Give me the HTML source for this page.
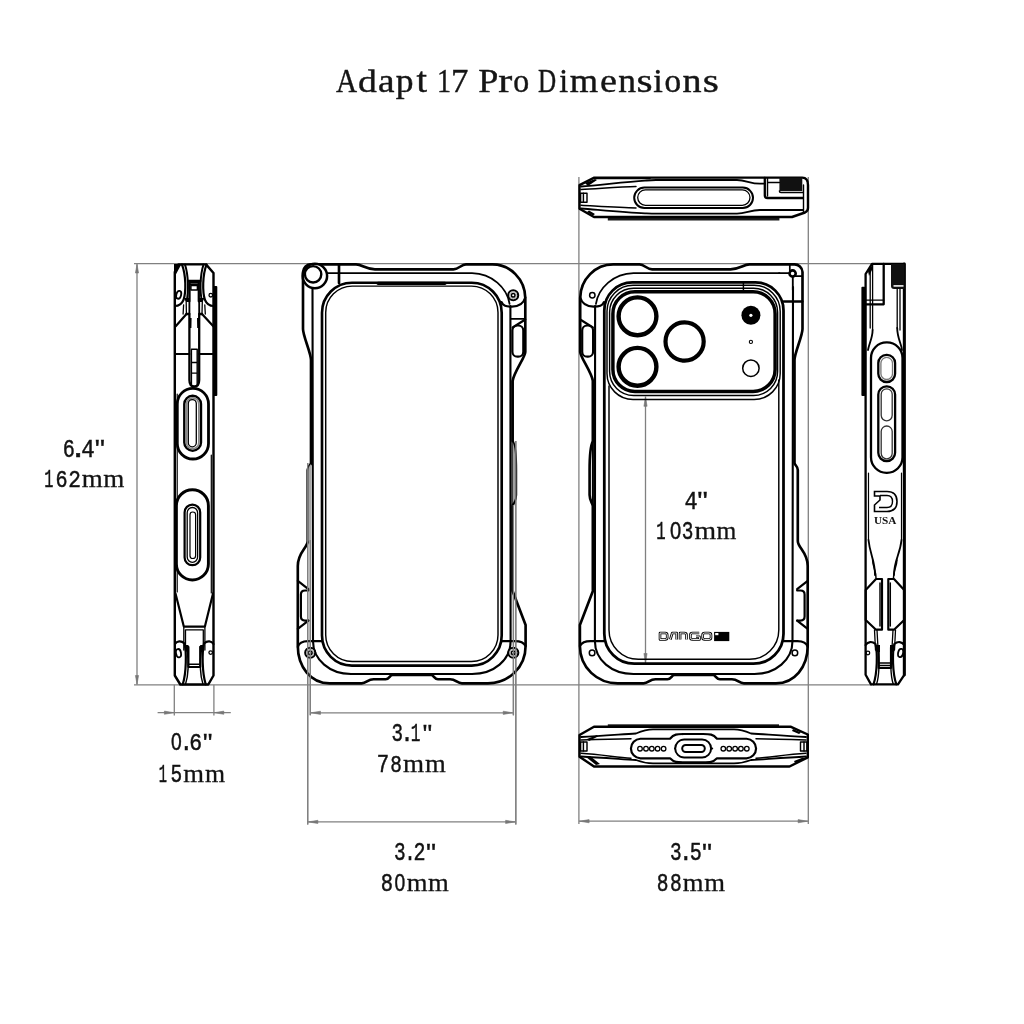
<!DOCTYPE html>
<html><head><meta charset="utf-8"><title>Adapt 17 Pro Dimensions</title>
<style>
html,body{margin:0;padding:0;background:#fff;}
body{width:1024px;height:1024px;overflow:hidden;}
svg{display:block;will-change:transform;}
.k{fill:none;stroke:#000;stroke-width:2.65;stroke-linejoin:round;stroke-linecap:round;}
.t{fill:none;stroke:#000;stroke-width:1.45;stroke-linejoin:round;stroke-linecap:round;}
.g{fill:none;stroke:#808080;stroke-width:1.3;}
.ga{fill:#777;stroke:#777;stroke-width:0.6;}
.f{fill:#000;stroke:none;}
.lbl text{font-family:"Liberation Mono",monospace;fill:#111;stroke:#111;stroke-width:0.5;}
.ttl text{font-family:"Liberation Serif",serif;fill:#151515;stroke:#151515;stroke-width:0.4;}
.lbl text.sf{font-family:"Liberation Serif",serif;stroke-width:0.3;}
.lbl text.ss{font-family:"Liberation Sans",sans-serif;}
.lbl,.ttl{opacity:0.995;}
</style></head>
<body>
<svg width="1024" height="1024" viewBox="0 0 1024 1024">
<rect width="1024" height="1024" fill="#fff"/>
<!-- DIMENSION LINES -->
<g id="dims">
  <line class="g" x1="134" y1="263.6" x2="872" y2="263.6"/>
  <line class="g" x1="134" y1="684.8" x2="872" y2="684.8"/>
  <line class="g" x1="137" y1="263.6" x2="137" y2="684.8"/>
  <path class="ga" d="M137,264.5 L135.4,273 L138.6,273 Z"/>
  <path class="ga" d="M137,684 L135.4,675.5 L138.6,675.5 Z"/>
  <!-- 0.6 -->
  <line class="g" x1="174.3" y1="684.8" x2="174.3" y2="715.6"/>
  <line class="g" x1="213.9" y1="684.8" x2="213.9" y2="715.6"/>
  <line class="g" x1="157.6" y1="712.7" x2="230.8" y2="712.7"/>
  <path class="ga" d="M173.8,712.7 L164.4,711.1 L164.4,714.3 Z"/>
  <path class="ga" d="M214.4,712.7 L223.8,711.1 L223.8,714.3 Z"/>
  <!-- 3.1 -->
  <line class="g" x1="310.3" y1="540" x2="310.3" y2="715.3"/>
  <line class="g" x1="513.4" y1="505" x2="513.4" y2="715.3"/>
  <line class="g" x1="310.3" y1="712.8" x2="513.4" y2="712.8"/>
  <path class="ga" d="M311,712.8 L320.5,711.2 L320.5,714.4 Z"/>
  <path class="ga" d="M512.7,712.8 L503.2,711.2 L503.2,714.4 Z"/>
  <!-- 3.2 -->
  <line class="g" x1="307.7" y1="463" x2="307.7" y2="824.5"/>
  <line class="g" x1="515.8" y1="441" x2="515.8" y2="824.5"/>
  <line class="g" x1="307.7" y1="821.9" x2="515.8" y2="821.9"/>
  <path class="ga" d="M308.4,821.9 L317.9,820.3 L317.9,823.5 Z"/>
  <path class="ga" d="M515.1,821.9 L505.6,820.3 L505.6,823.5 Z"/>
  <!-- 3.5 -->
  <line class="g" x1="578.9" y1="177" x2="578.9" y2="824"/>
  <line class="g" x1="808.3" y1="177" x2="808.3" y2="824"/>
  <line class="g" x1="578.9" y1="821.2" x2="808.3" y2="821.2"/>
  <path class="ga" d="M579.6,821.2 L589.1,819.6 L589.1,822.8 Z"/>
  <path class="ga" d="M807.6,821.2 L798.1,819.6 L798.1,822.8 Z"/>
  <!-- 4in -->
  <line class="g" x1="645.5" y1="396.5" x2="645.5" y2="663"/>
  <path class="ga" d="M645.5,397 L643.9,406.3 L647.1,406.3 Z"/>
  <path class="ga" d="M645.5,662.8 L643.9,653.5 L647.1,653.5 Z"/>
</g>

<g class="lbl">
<text transform="translate(62.81,456.70) scale(0.7842,0.9947)" font-size="25.7">6</text>
<text transform="translate(69.32,456.70) scale(1.1529,1.0000)" font-size="25.7">.</text>
<text transform="translate(81.27,456.70) scale(0.8733,1.0101)" font-size="25.7">4</text>
<text transform="translate(92.79,453.07) scale(0.9236,0.7233)" font-size="25.7">&quot;</text>
<text transform="translate(44.20,487.00) scale(0.5924,0.9806)" font-size="25.7">1</text>
<text transform="translate(55.51,487.00) scale(0.7842,0.9656)" font-size="25.7">6</text>
<text transform="translate(68.21,487.00) scale(0.8223,0.9656)" font-size="25.7">2</text>
<text transform="translate(81.83,487.00) scale(1.0499,1.0075)" font-size="25.7" class="sf">m</text>
<text transform="translate(103.23,487.00) scale(1.0552,1.0075)" font-size="25.7" class="sf">m</text>
<text transform="translate(171.05,750.30) scale(0.7489,0.9139)" font-size="25.7" class="ss">0</text>
<text transform="translate(179.51,750.30) scale(0.8817,1.0000)" font-size="25.7">.</text>
<text transform="translate(189.32,750.30) scale(0.8348,0.9539)" font-size="25.7">6</text>
<text transform="translate(201.10,747.37) scale(0.8644,0.7233)" font-size="25.7">&quot;</text>
<text transform="translate(158.81,781.50) scale(0.5356,0.9983)" font-size="25.7">1</text>
<text transform="translate(170.59,781.50) scale(0.7550,0.9983)" font-size="25.7">5</text>
<text transform="translate(183.34,781.50) scale(1.0394,1.0075)" font-size="25.7" class="sf">m</text>
<text transform="translate(204.96,781.50) scale(1.0027,1.0075)" font-size="25.7" class="sf">m</text>
<text transform="translate(391.40,741.20) scale(0.7468,0.9772)" font-size="25.7">3</text>
<text transform="translate(400.52,741.20) scale(0.8478,1.0000)" font-size="25.7">.</text>
<text transform="translate(410.84,741.20) scale(0.6249,0.9924)" font-size="25.7">1</text>
<text transform="translate(420.70,737.87) scale(0.8644,0.7233)" font-size="25.7">&quot;</text>
<text transform="translate(376.70,771.60) scale(0.8048,0.9688)" font-size="25.7">7</text>
<text transform="translate(390.24,771.60) scale(0.7546,0.9539)" font-size="25.7">8</text>
<text transform="translate(403.03,771.60) scale(1.0552,1.0075)" font-size="25.7" class="sf">m</text>
<text transform="translate(424.94,771.60) scale(1.0394,1.0075)" font-size="25.7" class="sf">m</text>
<text transform="translate(393.99,860.00) scale(0.7550,0.9830)" font-size="25.7">3</text>
<text transform="translate(404.16,860.00) scale(0.7460,1.0000)" font-size="25.7">.</text>
<text transform="translate(413.59,860.00) scale(0.7799,0.9830)" font-size="25.7">2</text>
<text transform="translate(423.93,856.57) scale(0.9117,0.7233)" font-size="25.7">&quot;</text>
<text transform="translate(380.67,890.70) scale(0.7961,0.9772)" font-size="25.7">8</text>
<text transform="translate(394.45,890.70) scale(0.7489,0.9362)" font-size="25.7" class="ss">0</text>
<text transform="translate(406.74,890.70) scale(1.0394,1.0075)" font-size="25.7" class="sf">m</text>
<text transform="translate(427.94,890.70) scale(1.0394,1.0075)" font-size="25.7" class="sf">m</text>
<text transform="translate(669.99,860.00) scale(0.7550,0.9830)" font-size="25.7">3</text>
<text transform="translate(678.91,860.00) scale(0.8817,1.0000)" font-size="25.7">.</text>
<text transform="translate(689.75,860.00) scale(0.7797,0.9983)" font-size="25.7">5</text>
<text transform="translate(699.93,856.57) scale(0.9117,0.7233)" font-size="25.7">&quot;</text>
<text transform="translate(656.73,890.70) scale(0.7629,0.9772)" font-size="25.7">8</text>
<text transform="translate(669.93,890.70) scale(0.7629,0.9772)" font-size="25.7">8</text>
<text transform="translate(682.74,890.70) scale(1.0394,1.0075)" font-size="25.7" class="sf">m</text>
<text transform="translate(704.34,890.70) scale(1.0394,1.0075)" font-size="25.7" class="sf">m</text>
<text transform="translate(684.40,508.70) scale(0.8499,0.9924)" font-size="25.7">4</text>
<text transform="translate(695.21,505.37) scale(0.9473,0.7233)" font-size="25.7">&quot;</text>
<text transform="translate(656.27,538.90) scale(0.6086,0.9924)" font-size="25.7">1</text>
<text transform="translate(670.02,538.90) scale(0.7814,0.9362)" font-size="25.7" class="ss">0</text>
<text transform="translate(681.79,538.90) scale(0.7550,0.9772)" font-size="25.7">3</text>
<text transform="translate(694.52,538.90) scale(1.0814,1.0075)" font-size="25.7" class="sf">m</text>
<text transform="translate(716.46,538.90) scale(0.9922,1.0075)" font-size="25.7" class="sf">m</text>
</g>
<g class="ttl">
<text transform="translate(336.11,92.20) scale(0.8747,0.9978)" font-size="33.4" class="sf">A</text>
<text transform="translate(357.94,92.20) scale(1.1269,0.9493)" font-size="33.4" class="sf">d</text>
<text transform="translate(377.89,92.20) scale(1.1142,0.9890)" font-size="33.4" class="sf">a</text>
<text transform="translate(395.63,92.20) scale(1.0635,0.9849)" font-size="33.4" class="sf">p</text>
<text transform="translate(416.43,92.20) scale(1.1304,1.0849)" font-size="33.4" class="sf">t</text>
<text transform="translate(436.93,92.20) scale(0.8419,0.9978)" font-size="33.4" class="sf">1</text>
<text transform="translate(451.11,92.20) scale(1.0417,1.0060)" font-size="33.4" class="sf">7</text>
<text transform="translate(478.16,92.20) scale(1.0813,1.0060)" font-size="33.4" class="sf">P</text>
<text transform="translate(498.36,92.20) scale(1.2598,0.9849)" font-size="33.4" class="sf">r</text>
<text transform="translate(513.19,92.20) scale(0.9537,0.9849)" font-size="33.4" class="sf">o</text>
<text transform="translate(538.08,92.20) scale(0.7516,1.0060)" font-size="33.4" class="sf">D</text>
<text transform="translate(559.23,92.20) scale(0.9569,0.9948)" font-size="33.4" class="sf">i</text>
<text transform="translate(569.64,92.20) scale(1.0906,0.9849)" font-size="33.4" class="sf">m</text>
<text transform="translate(600.01,92.20) scale(1.1406,0.9849)" font-size="33.4" class="sf">e</text>
<text transform="translate(618.29,92.20) scale(1.0630,0.9849)" font-size="33.4" class="sf">n</text>
<text transform="translate(636.50,92.20) scale(1.2379,0.9849)" font-size="33.4" class="sf">s</text>
<text transform="translate(653.28,92.20) scale(1.0324,0.9948)" font-size="33.4" class="sf">i</text>
<text transform="translate(664.43,92.20) scale(0.9961,0.9849)" font-size="33.4" class="sf">o</text>
<text transform="translate(682.43,92.20) scale(1.1408,0.9849)" font-size="33.4" class="sf">n</text>
<text transform="translate(702.70,92.20) scale(1.2379,0.9849)" font-size="33.4" class="sf">s</text>
</g><defs>
<g id="frame">
  <!-- outer outline -->
  <path class="k" d="M311.3,264.4 L356,264.4 C362,264.4 366,269.3 375,269.3 L453.4,269.3 C459,269.3 461,264.4 466,264.4 L492,264.4 A33,34 0 0 1 525.3,298 L525.3,352 C525.3,357 514,372 512.6,381 L512.6,441 C515.2,446 515.9,455 515.9,470 L515.9,495 C515.9,500 513.2,503 512.6,506 L512.6,591 L525.6,625 L525.6,646 C525.6,668 508,683.3 487.8,683.3 L462,683.3 C457,683.3 456,679.2 450,679.2 L438,679.2 C434,679.2 434,675 431,675 L392.6,675 C389.6,675 389.6,679.2 385.6,679.2 L373.6,679.2 C367.6,679.2 366.6,683.3 361.6,683.3 L329.6,683.3 C311,683.3 297.8,667 297.8,646 L297.8,566 C297.8,552 307.7,548 307.7,541 L307.7,470 C307.7,466 311,465 311,463 L311,360 C311,353 303,336 303,329 L303,272 A8,8 0 0 1 311.3,264.4 Z"/>
  <!-- band line -->
  <path class="t" style="stroke-width:1.7" d="M326,273.2 L472,273.2 C492,273.5 507,288 509.6,304"/>
  <path class="t" style="stroke-width:2.1" d="M510.4,306 L510.6,641 C510.6,660 494,674 472,674 L351,674 C330,674 313,660 313,641 L312.5,287"/>
  <!-- top right corner piece -->
  <path class="k" style="stroke-width:2.18" d="M501.5,302 C503,306 506,306.6 512,306.6 C519,306.6 523.5,303.5 525.3,297.5"/>
  <!-- bottom corner pieces -->
  <path class="k" style="stroke-width:2.18" d="M297.8,647 C299,643 303,641.2 308,641.2 L321.5,641.2"/>
  <path class="k" style="stroke-width:2.18" d="M501.7,641.2 L515,641.2 C520,641.2 524,643 525.6,646"/>
  <!-- right upper button -->
  <path class="k" style="stroke-width:2.1" d="M525.3,319.5 L512.6,327.5"/>
  <rect class="k" style="stroke-width:2.18" x="512.4" y="325.5" width="10.9" height="31.2" rx="5"/>
  <path class="k" style="stroke-width:2.07" d="M512.6,381 L512.6,590"/>
  <!-- left lower button -->
  <path class="k" style="stroke-width:2.18" d="M297.8,580.9 L308.4,589.1 M308.4,620.6 L297.8,628.8"/>
  <path class="k" style="stroke-width:2.18" d="M308.4,590.5 L305,590.5 Q300.9,590.5 300.9,594.5 L300.9,616.6 Q300.9,620.6 305,620.6 L308.4,620.6"/>
</g>
</defs>
<g id="front">
  <use href="#frame"/>
  <!-- gray slivers -->
  <path d="M512.6,442 C515,447 515.4,455 515.4,470 L515.4,495 C515.4,500 513.2,502 512.6,504 Z" fill="#a0a0a0"/>
  <path d="M311,464 C309,466 308.3,468 308.3,471 L308.3,540 C309.5,545 310.5,546 311,546 Z" fill="#a8a8a8"/>
  <!-- knob -->
  <circle cx="314.9" cy="276" r="12.2" fill="#fff" stroke="#000" stroke-width="2.5"/>
  <circle cx="313.1" cy="274.3" r="8.2" fill="#fff" stroke="#000" stroke-width="2.4"/>
  <line class="k" x1="339" y1="264.4" x2="339" y2="283"/>
  <path class="t" style="stroke-width:1.7" d="M511,318.9 L525.3,318.9"/>
  <!-- screen -->
  <rect class="k" x="322" y="282.7" width="179.7" height="382.9" rx="30"/>
  <rect class="t" x="325.7" y="286.1" width="172.3" height="375.3" rx="26.5"/>
  <line x1="378" y1="283.3" x2="445" y2="283.3" stroke="#000" stroke-width="3.2" stroke-linecap="round"/>
  <!-- screws -->
  <g fill="none">
  <circle cx="513.2" cy="295.3" r="5" fill="#fff" stroke="#000" stroke-width="2.1"/>
  <circle cx="513.2" cy="295.3" r="3.5" stroke="#999" stroke-width="0.8"/>
  <circle cx="513.2" cy="295.3" r="1.8" stroke="#000" stroke-width="1.5"/>
  <circle cx="310.2" cy="652.8" r="5" fill="#fff" stroke="#000" stroke-width="2.1"/>
  <circle cx="310.2" cy="652.8" r="3.5" stroke="#999" stroke-width="0.8"/>
  <circle cx="310.2" cy="652.8" r="1.9" stroke="#000" stroke-width="1.5"/>
  <circle cx="513.3" cy="652.8" r="5" fill="#fff" stroke="#000" stroke-width="2.1"/>
  <circle cx="513.3" cy="652.8" r="3.5" stroke="#999" stroke-width="0.8"/>
  <circle cx="513.3" cy="652.8" r="1.9" stroke="#000" stroke-width="1.5"/>
  </g>
</g>
<g id="back">
  <use href="#frame" transform="translate(1105.5,0) scale(-1,1)"/>
  <!-- top right screw -->
  <path class="t" style="stroke-width:1.7" d="M789.8,264.5 L789.8,270.5 M795,276.2 L802.3,276.2"/>
  <circle cx="792.6" cy="273.5" r="3.1" fill="#fff" stroke="#000" stroke-width="2.6"/>
  <line class="k" x1="783.5" y1="301.5" x2="802.2" y2="301.5"/>
  <!-- panel -->
  <path class="k" d="M604.3,633.7 L604.3,310.4 A28,28 0 0 1 632.3,282.4 L755.5,282.4 A28,28 0 0 1 783.5,310.4 L783.5,633.7 A30,30 0 0 1 753.5,663.7 L634.3,663.7 A30,30 0 0 1 604.3,633.7 Z" style="stroke-width:2.76"/>
  <path class="t" d="M779,273.2 L788.5,273.2 M792.8,277.5 L792.8,290" style="stroke-width:1.84"/>
  <path class="t" d="M609,386 L609,630 A29.3,29.3 0 0 0 638.3,659.3 L749.5,659.3 A29.3,29.3 0 0 0 778.8,630 L778.8,380"/>
  <!-- camera module -->
  <rect class="t" x="607" y="285.3" width="173.2" height="114.2" rx="26"/>
  <rect class="t" x="609.6" y="288.2" width="168" height="107.3" rx="24"/>
  <rect class="k" x="612.9" y="291.7" width="162.2" height="99.7" rx="22" style="stroke-width:3.45"/>
  <line class="t" x1="743.4" y1="282.4" x2="743.4" y2="291"/>
  <circle cx="637.5" cy="316.3" r="18.9" fill="none" stroke="#000" stroke-width="4.4"/>
  <circle cx="637.5" cy="366.8" r="18.9" fill="none" stroke="#000" stroke-width="4.4"/>
  <circle cx="684.6" cy="341.5" r="19.1" fill="none" stroke="#000" stroke-width="4.2"/>
  <circle cx="750.9" cy="315.3" r="9.5" fill="#000"/>
  <circle cx="750.9" cy="315.3" r="1.6" fill="#fff"/>
  <circle cx="750.9" cy="341.9" r="1.6" fill="none" stroke="#000" stroke-width="1.1"/>
  <circle cx="750.9" cy="368.2" r="8.2" fill="none" stroke="#000" stroke-width="1.5"/>
  <!-- screws -->
  <circle cx="592.3" cy="295.2" r="2.7" fill="none" stroke="#000" stroke-width="1.5"/>
  <circle cx="592.1" cy="652.9" r="2.8" fill="none" stroke="#000" stroke-width="1.5"/>
  <circle cx="794.9" cy="652.9" r="2.8" fill="none" stroke="#000" stroke-width="1.5"/>
  <!-- logo -->
  <g fill="none" stroke-linejoin="round" stroke-linecap="butt">
    <defs><path id="dgo" d="M660,633 L665.3,633 Q667.2,633 667.2,635 L667.2,637.5 Q667.2,639.5 665.3,639.5 L660,639.5 Z M670.3,639.5 L672.3,633 L676.7,633 L676.7,639.5 M680.1,639.5 L680.1,633 L684.5,633 Q686.5,633 686.5,635 L686.5,639.5 M699.2,633 L692.3,633 Q690.4,633 690.4,635 L690.4,637.5 Q690.4,639.5 692.3,639.5 L699.5,639.5 L699.5,636.8 L696,636.8 M704.6,633 L709,633 Q711,633 711,635 L711,637.5 Q711,639.5 709,639.5 L704.6,639.5 Q702.6,639.5 702.6,637.5 L702.6,635 Q702.6,633 704.6,633 Z"/></defs>
    <use href="#dgo" stroke="#000" stroke-width="2.6"/>
    <use href="#dgo" stroke="#fff" stroke-width="0.9"/>
  </g>
  <rect x="714.1" y="631.9" width="15.2" height="9.2" fill="#000"/>
  <rect x="715.2" y="633" width="3.2" height="2.2" fill="#fff"/>
</g>
<g id="leftview">
  <!-- outline -->
  <path class="k" d="M174.8,272 L174.8,675.5 L180.3,684.5 L208.3,684.5 L213.5,675.5 L213.5,273 L206,264.4 L178.5,264.4 Z" style="stroke-width:2.42"/>
  <path class="f" d="M174,264 L181.5,264 L175.6,275 L174,275 Z"/>
  <rect x="213.3" y="286" width="4" height="110" rx="1" fill="#000"/>
  <!-- top ears -->
  <path class="k" d="M182,264.6 C186,275 186.2,292 183.5,300 C181.5,304.5 178,306 175,306" style="stroke-width:2.18"/>
  <path class="k" d="M185,264.6 C188.5,275 188.7,292 186.6,301" style="stroke-width:1.95"/>
  <ellipse cx="178.7" cy="294.8" rx="2.4" ry="4" fill="none" stroke="#000" stroke-width="1.8" transform="rotate(15 178.7 294.8)"/>
  <path class="k" d="M206.5,264.6 C202.5,275 202.3,292 205,300 C207,304.5 210.5,306 213.4,306" style="stroke-width:2.18"/>
  <path class="k" d="M203.5,264.6 C200,275 199.8,292 201.9,301" style="stroke-width:1.95"/>
  <circle cx="210.8" cy="295.2" r="1.8" fill="none" stroke="#000" stroke-width="1.3"/>
  <!-- top slot -->
  <path class="k" d="M188,281 L200.3,281 M189.5,281 L189.5,301.3 M198.8,281 L198.8,301.3" style="stroke-width:2.3"/>
  <path class="t" d="M189.5,282.6 L198.8,282.6 M189.5,284.2 L198.8,284.2"/>
  <rect class="t" x="190.9" y="285.5" width="6.5" height="4.5"/>
  <path class="f" d="M184,298 L189.5,298 L189.5,302 L186,302 Z M198.8,298 L204.5,298 L202.5,302 L198.8,302 Z"/>
  <path class="t" d="M183.6,305 L183.1,314 M186.2,302 L186.4,314 M204.8,305 L205.3,314 M202.3,302 L202,314" style="stroke-width:1.3"/>
  <!-- channel -->
  <path class="k" d="M186.5,314 L189.4,314 L189.4,380 Q189.4,386.5 194.3,386.5 Q199.2,386.5 199.2,380 L199.2,314 L202,314" style="stroke-width:2.3"/>
  <path class="k" d="M189.4,302 L189.4,314 M199.2,302 L199.2,314" style="stroke-width:1.84"/>
  <path class="f" d="M189.4,318 L191.6,318 L191.4,328 L189.4,328 Z M197,318 L199.2,318 L199.2,328 L197.2,328 Z"/>
  <path class="t" d="M191.4,349.2 L197.2,349.2 M191.4,362.4 L197.2,362.4 M191.4,373.1 L197.2,373.1 M191.4,349.2 L191.4,385 M197.2,349.2 L197.2,385"/>
  <path class="k" d="M175.7,326.2 L186.5,314 M202,314 L213.3,326.2" style="stroke-width:2.18"/>
  <path class="k" d="M175,354 L189.4,354 M199.2,354 L213.3,354" style="stroke-width:1.95"/>
  <!-- edge inner lines -->
  <path class="t" d="M177.2,394 L177.2,592 M211.3,455 L211.3,593" style="stroke-width:1.2"/>
  <!-- upper pill -->
  <rect x="177.3" y="388.3" width="31.2" height="70.7" rx="15.6" fill="#fff" stroke="#000" stroke-width="2.8"/>
  <rect x="184.3" y="395.8" width="16.7" height="54.9" rx="8.3" fill="none" stroke="#000" stroke-width="2.4"/>
  <rect x="186.4" y="397.9" width="12.5" height="50.7" rx="6.2" fill="none" stroke="#888" stroke-width="1.8"/>
  <rect x="188.3" y="399.6" width="8" height="47.2" rx="4" fill="none" stroke="#000" stroke-width="1.3"/>
  <!-- lower pill -->
  <rect x="176.4" y="489.7" width="32" height="90.3" rx="16" fill="#fff" stroke="#000" stroke-width="2.9"/>
  <rect x="184.6" y="504.6" width="15.6" height="60.6" rx="7.8" fill="none" stroke="#000" stroke-width="2.2"/>
  <rect x="187.2" y="507.5" width="10.4" height="54.8" rx="5.2" fill="none" stroke="#000" stroke-width="1.3"/>
  <rect x="190" y="512" width="5.6" height="46.5" rx="2.8" fill="none" stroke="#000" stroke-width="1.2"/>
  <!-- bottom taper -->
  <path class="k" d="M175.5,593.4 L183.8,626.6 L204.9,626.6 L213,593.4" style="stroke-width:2.18"/>
  <path class="t" d="M185.5,629.8 L203.3,629.8 M183.8,626.6 L183.8,650 M185.5,629.8 L185.5,648 M204.9,626.6 L204.9,650 M203.3,629.8 L203.3,648" style="stroke-width:1.3"/>
  <!-- bottom ears -->
  <path class="k" d="M175,644 C177,641 181,640.3 184.5,643.5 C186.5,652 186.5,672 182.8,684.3" style="stroke-width:2.18"/>
  <path class="t" d="M187,649 C188.5,660 188.5,675 185.5,684.3" style="stroke-width:1.4"/>
  <ellipse cx="178.5" cy="653.2" rx="2.5" ry="4.2" fill="none" stroke="#000" stroke-width="1.8" transform="rotate(-10 178.5 653.2)"/>
  <path class="k" d="M213.5,644 C211.5,641 207.5,640.3 204,643.5 C202,652 202,672 205.7,684.3" style="stroke-width:2.18"/>
  <path class="t" d="M201.5,649 C200,660 200,675 203,684.3" style="stroke-width:1.4"/>
  <circle cx="210.7" cy="652.6" r="1.8" fill="none" stroke="#000" stroke-width="1.3"/>
  <!-- bottom slot -->
  <path class="k" d="M188.4,647 L188.4,667 L200.2,667 L200.2,647" style="stroke-width:2.18"/>
  <path class="t" d="M188.4,664.3 L200.2,664.3 M186,646.5 L188.4,646.5 M200.2,646.5 L202.6,646.5"/>
  <path class="f" d="M184.5,645 L188.4,645 L188.4,652 L186.5,652 Z M200.2,645 L204,645 L202,652 L200.2,652 Z"/>
</g>
<g id="rightview">
  <!-- outline -->
  <path class="k" d="M872,263.8 L904.3,263.8 L904.3,674.8 L898,684.4 L871,684.4 L865.6,674.8 L865.6,274 Z" style="stroke-width:2.3"/>
  <path class="k" d="M904.3,264 L904.3,675" style="stroke-width:2.99"/>
  <rect x="861.4" y="286.7" width="4" height="109.3" rx="1" fill="#000"/>
  <path class="f" d="M868,271 L871.5,266 L873,268 L869,276 Z"/>
  <!-- knurled block -->
  <path d="M891,264 L904.5,264 L904.5,289 L894,289 Q891,289 891,286 Z" fill="#111"/>
  <rect x="893.5" y="285" width="10" height="1.8" fill="#ddd"/>
  <!-- top details -->
  <path class="k" d="M883.7,264 L883.7,304.3 L865.6,304.3" style="stroke-width:2.3"/>
  <path class="t" d="M865.6,300.2 L883.7,300.2 M870.2,268 L870.2,328 M872.6,265 L872.6,330" style="stroke-width:1.3"/>
  <path class="t" d="M897.2,289 L897.2,328 M900,289 L900,330" style="stroke-width:1.3"/>
  <path class="k" d="M872.6,330 C872.6,338 869,344 868,350 M897.2,328 C897.2,338 901.5,344 902,350" style="stroke-width:1.84"/>
  <!-- big pill -->
  <rect x="871" y="342.4" width="31.5" height="130.4" rx="15.5" fill="#fff" stroke="#000" stroke-width="2.3"/>
  <rect x="878.3" y="354.9" width="16.8" height="27.1" rx="8.2" fill="none" stroke="#000" stroke-width="2.3"/>
  <rect x="880.9" y="357.4" width="11.6" height="22.1" rx="5.8" fill="none" stroke="#777" stroke-width="1.3"/>
  <rect x="878.3" y="386.4" width="16.8" height="74.6" rx="8.2" fill="none" stroke="#000" stroke-width="2.3"/>
  <rect x="881.2" y="388.8" width="11" height="32" rx="5.5" fill="none" stroke="#333" stroke-width="1.3"/>
  <rect x="881.2" y="426" width="11" height="32.8" rx="5.5" fill="none" stroke="#333" stroke-width="1.3"/>
  <!-- lower -->
  <path class="t" d="M868.5,473 L868.5,540 M901.5,473 L901.5,540" style="stroke-width:1.2"/>
  <path class="k" d="M868.5,540 C870,555 875,560 875,575 M901.5,540 C900,555 894,560 894,575" style="stroke-width:1.84"/>
  <path class="t" d="M872.6,560 C873,568 876,570 876,578 M897,560 C896.5,568 893.5,570 893.5,578"/>
  <!-- D USA logo -->
  <path d="M874.5,491.5 L887,491.5 Q897,491.5 897,501.5 Q897,511.5 887,511.5 L874.5,511.5 L874.5,505 L880,500 L880,496 L874.5,496 Z" fill="#fff" stroke="#000" stroke-width="1.6"/>
  <path d="M880,495.5 L887,495.5 Q892.5,495.5 892.5,501.5 Q892.5,507.5 887,507.5 L879,507.5" fill="none" stroke="#000" stroke-width="1.4"/>
  <text x="874" y="524.3" font-family="Liberation Serif" font-weight="bold" font-size="10.5" textLength="22.5" lengthAdjust="spacingAndGlyphs" fill="#111">USA</text>
  <!-- hex pieces -->
  <path class="k" d="M882,579 L876,579 L865.7,590 L865.7,620 L876,629.7 L882,629.7 Z" style="stroke-width:2.18"/>
  <path class="k" d="M888.3,579 L894,579 L904.2,590 L904.2,620 L894,629.7 L888.3,629.7 Z" style="stroke-width:2.18"/>
  <path class="t" d="M880,583 L880,626 M890.3,583 L890.3,626"/>
  <!-- lower hinge -->
  <path class="t" d="M874.5,630 L875.5,650 M877,630 L878,648 M895.5,630 L894.5,650 M893,630 L892,648" style="stroke-width:1.3"/>
  <path class="k" d="M878.7,647.5 L878.7,668 L891,668 L891,647.5" style="stroke-width:2.18"/>
  <path class="t" d="M878.7,663 L891,663 M878.7,665.5 L891,665.5"/>
  <path class="f" d="M876,645 L880,645 L880,652 L877,652 Z M890,645 L894,645 L893,652 L890,652 Z"/>
  <path class="k" d="M865.6,645 C868,641.5 872,641 875.5,644 C877.5,653 877.5,672 873.5,684.3" style="stroke-width:2.18"/>
  <path class="t" d="M878,650 C879.5,660 879.5,675 876.5,684.3" style="stroke-width:1.4"/>
  <circle cx="867.9" cy="653" r="1.8" fill="none" stroke="#000" stroke-width="1.3"/>
  <path class="k" d="M904.2,645 C901.8,641.5 897.8,641 894.3,644 C892.3,653 892.3,672 896.3,684.3" style="stroke-width:2.18"/>
  <path class="t" d="M891.8,650 C890.3,660 890.3,675 893.3,684.3" style="stroke-width:1.4"/>
  <ellipse cx="900.6" cy="653" rx="2.5" ry="4.2" fill="none" stroke="#000" stroke-width="1.8" transform="rotate(12 900.6 653)"/>
</g>
<g id="topview">
  <rect x="607.8" y="217.3" width="171.6" height="3.2" fill="#1a1a1a"/>
  <path class="k" d="M594.3,177.6 L802.3,177.6 Q808,177.6 808,185 L808,208 Q808,211 805,212.5 L792,217 L594,217 L579.5,208.7 L579.5,185.2 Z" style="stroke-width:2.42"/>
  <path class="k" d="M594.3,178.5 L650,178.5" style="stroke-width:1.5"/>
  <path class="f" d="M585,183 L595,179 L597,180 L588,186 Z M587,212 L593,215.5 L595,214 L589,210.5 Z"/>
  <path class="t" style="stroke-width:1.8" d="M581,186.5 C600,185 625,182 645,180.6 C650,180.2 652,180 656,180 L737,180 C746,180 750,183.7 760,183.7 L765,183.7"/>
  <path class="t" style="stroke-width:1.8" d="M581,208.5 C600,210 625,212.5 645,213.3 C650,213.5 652,213.6 656,213.6 L737,213.6 C746,213.6 750,210 760,210 L803,210"/>
  <path class="t" d="M581,189.5 C600,188.5 620,187 636,186.5"/>
  <path class="t" d="M581,205.3 C600,206.3 620,207.5 636,208"/>
  <rect x="634.2" y="187.6" width="118.8" height="20.4" rx="10.2" fill="none" stroke="#000" stroke-width="2"/>
  <rect x="637.7" y="189.9" width="112.3" height="15.4" rx="7.7" fill="none" stroke="#000" stroke-width="1.3"/>
  <rect class="t" x="580.6" y="193.2" width="6.4" height="9" />
  <line class="t" x1="583.4" y1="193.2" x2="583.4" y2="202.2"/>
  <!-- right block -->
  <rect x="779.4" y="177.6" width="22.9" height="13.4" fill="#111"/>
  <path class="k" d="M764.8,178 L764.8,195.5 Q764.8,198 767.5,198 L803,198" style="stroke-width:2.3"/>
  <path class="t" d="M767.5,178 L767.5,196 M767.5,182.5 L779.4,182.5 M779.4,191 Q779.4,192.5 781,192.5 L803,192.5"/>
  <path class="t" d="M803.5,185 L803.5,212" style="stroke-width:1.4"/>
</g>
<g id="botview">
  <rect x="607.8" y="724.3" width="171.2" height="3.2" fill="#1a1a1a"/>
  <path class="k" d="M594,726.8 L791,726.8 L807.8,734.5 L807.8,757.3 L789.5,766.5 L594,766.5 L579.5,756.7 L579.5,735 Z" style="stroke-width:2.42"/>
  <path class="f" d="M587,739 L597,735 L598,736.5 L589,741 Z M586,757 L596,765 L600,764 L590,756 Z M793,729 L801,732.5 L799,734 L792,731 Z M795,763 L805,759 L803,757.5 L794,761 Z"/>

  <path class="t" style="stroke-width:1.8" d="M581,737 C600,736 620,734.5 636,733.5 C642,731 646,729.4 653,729.4 L734,729.4 C741,729.4 745,731 751,733.5 C767,734.5 787,736 806,737"/>
  <path class="t" style="stroke-width:1.8" d="M581,756.5 C600,757.5 620,759 636,760 C642,762.3 646,763.4 653,763.4 L734,763.4 C741,763.4 745,762.3 751,760 C767,759 787,757.5 806,756.5"/>
  <path class="t" d="M581,740 C600,739.4 615,739 631,738.8 M806,740 C787,739.4 772,739 756,738.8 M581,753.3 C600,754.5 615,757 631,758.3 M806,753.3 C787,754.5 772,757 756,758.3"/>
  <path class="k" style="stroke-width:2.2" d="M640.4,738.75 L670,738.75 C674,734 677,734 684,734 L703,734 C710,734 713,734 717,738.75 L746.6,738.75 A9.78,9.78 0 0 1 746.6,758.3 L717,758.3 C713,762.4 710,762.4 703,762.4 L684,762.4 C677,762.4 674,762.4 670,758.3 L640.4,758.3 A9.78,9.78 0 0 1 640.4,738.75 Z"/>
  <rect x="675.2" y="739.5" width="35.9" height="18" rx="9" fill="#fff" stroke="#000" stroke-width="2"/>
  <rect x="682.2" y="745" width="22.6" height="7" rx="3.5" fill="none" stroke="#000" stroke-width="2"/>
  <g fill="none" stroke="#000" stroke-width="1.3">
    <circle cx="640" cy="748.7" r="2.3"/><circle cx="646" cy="748.7" r="2.3"/><circle cx="651.8" cy="748.7" r="2.3"/><circle cx="657.6" cy="748.7" r="2.3"/><circle cx="663.6" cy="748.7" r="2.3"/>
    <circle cx="723.3" cy="748.7" r="2.3"/><circle cx="729.2" cy="748.7" r="2.3"/><circle cx="735.1" cy="748.7" r="2.3"/><circle cx="740.9" cy="748.7" r="2.3"/><circle cx="746.8" cy="748.7" r="2.3"/>
  </g>
  <circle cx="675" cy="748.4" r="1" fill="#000"/><circle cx="712.2" cy="748.4" r="1" fill="#000"/>
  <rect class="t" x="580.6" y="742" width="6.4" height="9"/>
  <line class="t" x1="583.4" y1="742" x2="583.4" y2="751"/>
  <rect class="t" x="800.5" y="742" width="6.4" height="9"/>
  <line class="t" x1="804" y1="742" x2="804" y2="751"/>
</g>
<g>
  <line class="g" x1="310.3" y1="540" x2="310.3" y2="715.3"/>
  <line class="g" x1="513.4" y1="505" x2="513.4" y2="715.3"/>
  <line class="g" x1="307.7" y1="463" x2="307.7" y2="824.5"/>
  <line class="g" x1="515.8" y1="441" x2="515.8" y2="824.5"/>
</g>

</svg>
</body></html>
